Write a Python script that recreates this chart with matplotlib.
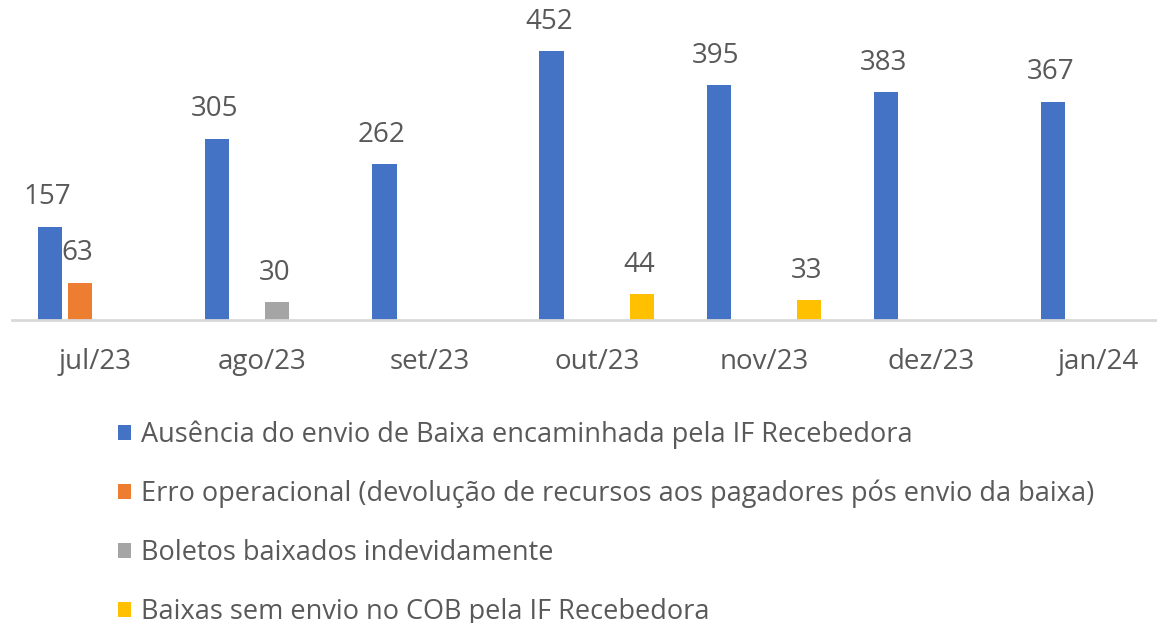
import matplotlib
matplotlib.use("Agg")
import matplotlib.pyplot as plt
import numpy as np

plt.rcParams['font.family'] = ['Open Sans', 'DejaVu Sans']

# data
meses = ["jul/23", "ago/23", "set/23", "out/23", "nov/23", "dez/23", "jan/24"]
series_nomes = [
    "Ausência do envio de Baixa encaminhada pela IF Recebedora",
    "Erro operacional (devolução de recursos aos pagadores pós envio da baixa)",
    "Boletos baixados indevidamente",
    "Baixas sem envio no COB pela IF Recebedora",
]
ausencia = [157, 305, 262, 452, 395, 383, 367]
erro_operacional = [63, None, None, None, None, None, None]
baixados_indev = [None, 30, None, None, None, None, None]
sem_envio_cob = [None, None, None, 44, 33, None, None]

cores = ["#4472C4", "#ED7D31", "#A5A5A5", "#FFC000"]
texto_cor = "#595959"
fs = 20

fig = plt.figure(figsize=(11.57, 6.23), dpi=100)
W, H = 1157, 623
# axis baseline at y=320px, extends past right edge like the original crop
ax = fig.add_axes([11.5 / W, (H - 320) / H, 1170.5 / W, 320 / H])

x = np.arange(len(meses))
slot = 0.18
largura = 0.145
todas = [ausencia, erro_operacional, baixados_indev, sem_envio_cob]
for i, (vals, cor, nome) in enumerate(zip(todas, cores, series_nomes)):
    pos = x + (i - 1.5) * slot
    v = np.array([np.nan if a is None else a for a in vals], dtype=float)
    ax.bar(pos, np.nan_to_num(v), width=largura, color=cor, label=nome)
    for p, val in zip(pos, v):
        if not np.isnan(val):
            ax.annotate(f"{int(val)}", (p, val), xytext=(-2, 16), textcoords="offset points",
                        ha="center", va="baseline", fontsize=fs, color=texto_cor)

ax.set_xlim(-0.5, len(meses) - 0.5)
ax.set_ylim(0, 538)
ax.set_xticks(x)
ax.set_xticklabels(meses, fontsize=fs, color=texto_cor)
ax.tick_params(axis="x", length=0, pad=20)
ax.set_yticks([])
for s in ["top", "left", "right"]:
    ax.spines[s].set_visible(False)
ax.spines["bottom"].set_color("#D9D9D9")
ax.spines["bottom"].set_linewidth(2)

fig.legend(loc="upper left", bbox_to_anchor=(94 / W, (H - 396) / H), frameon=False,
           fontsize=19.5, labelcolor=texto_cor, handlelength=0.48, handleheight=0.48,
           handletextpad=0.37, labelspacing=1.14)

fig.savefig("out.png", dpi=100)
